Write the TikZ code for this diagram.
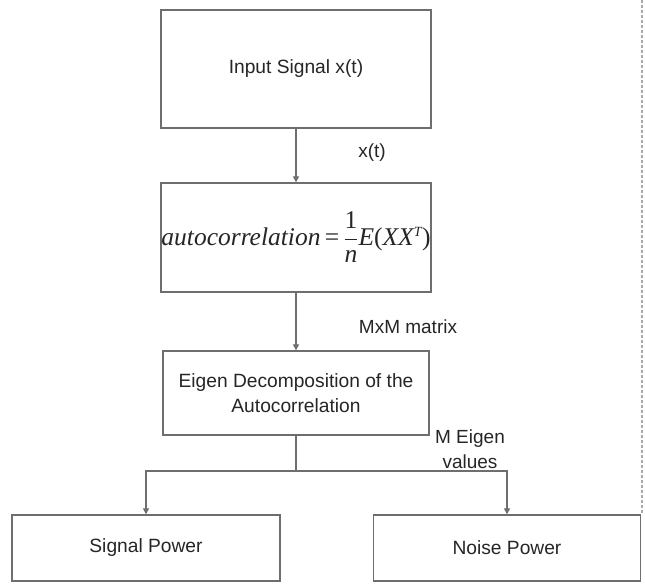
\documentclass[tikz,border=0pt]{standalone}
\usepackage{fontspec}
\setmainfont{Liberation Sans}
\newfontfamily\tms{Liberation Serif}
\usetikzlibrary{arrows.meta}
\definecolor{lncol}{HTML}{6E6E6E}
\definecolor{txtcol}{HTML}{262626}
\begin{document}
\begin{tikzpicture}[x=1pt,y=-1pt,
  blk/.style={draw=lncol,line width=1.4pt,fill=white,text=txtcol,inner sep=0pt,align=center,
    font=\fontsize{19.2}{25}\selectfont},
  lbl/.style={text=txtcol,inner sep=0pt,align=center,font=\fontsize{19}{25}\selectfont},
  conn/.style={draw=lncol,line width=1.3pt},
  arr/.style={conn,-{Triangle[length=6pt,width=6pt]}}]
\useasboundingbox (0,0) rectangle (645,584);
\fill[white] (0,0) rectangle (645,584);
\draw[lncol!60,line width=1.2pt,dash pattern=on 3pt off 2pt] (642,0) -- (642,514);
\node[blk,minimum width=270pt,minimum height=118pt] (inp) at (296,69) {Input Signal x(t)};
\node[blk,minimum width=270pt,minimum height=109pt] (auto) at (296,237.5)
  {\fontsize{25.5}{28}\selectfont\tms\itshape autocorrelation\,{\upshape=}\,$\displaystyle\frac{\hbox{\tms\upshape 1}}{\hbox{\tms\itshape n}}$\hbox{\tms\itshape E}\hbox{\tms\upshape(}XX$^{\hbox{\tms\itshape\fontsize{14}{15}\selectfont T}}$\hbox{\tms\upshape)}};
\node[blk,minimum width=266pt,minimum height=84pt] (eig) at (296,393)
  {Eigen Decomposition of the\\Autocorrelation};
\node[blk,minimum width=268pt,minimum height=66pt] (sig) at (146,548) {Signal Power};
\node[blk,minimum width=267pt,minimum height=66pt] (noi) at (507,548) {Noise Power};
\coordinate (br) at (296,471);
\draw[arr] (inp.south) -- (auto.north);
\draw[arr] (auto.south) -- (eig.north);
\draw[conn] (eig.south) -- (br);
\draw[arr] (br) -| (sig.north);
\draw[arr] (br) -| (noi.north);
\node[lbl] (l1) at (372,153) {x(t)};
\node[lbl] (l2) at (408,327) {MxM matrix};
\node[lbl] (l3) at (470,449) {M Eigen\\values};
\end{tikzpicture}
\end{document}
